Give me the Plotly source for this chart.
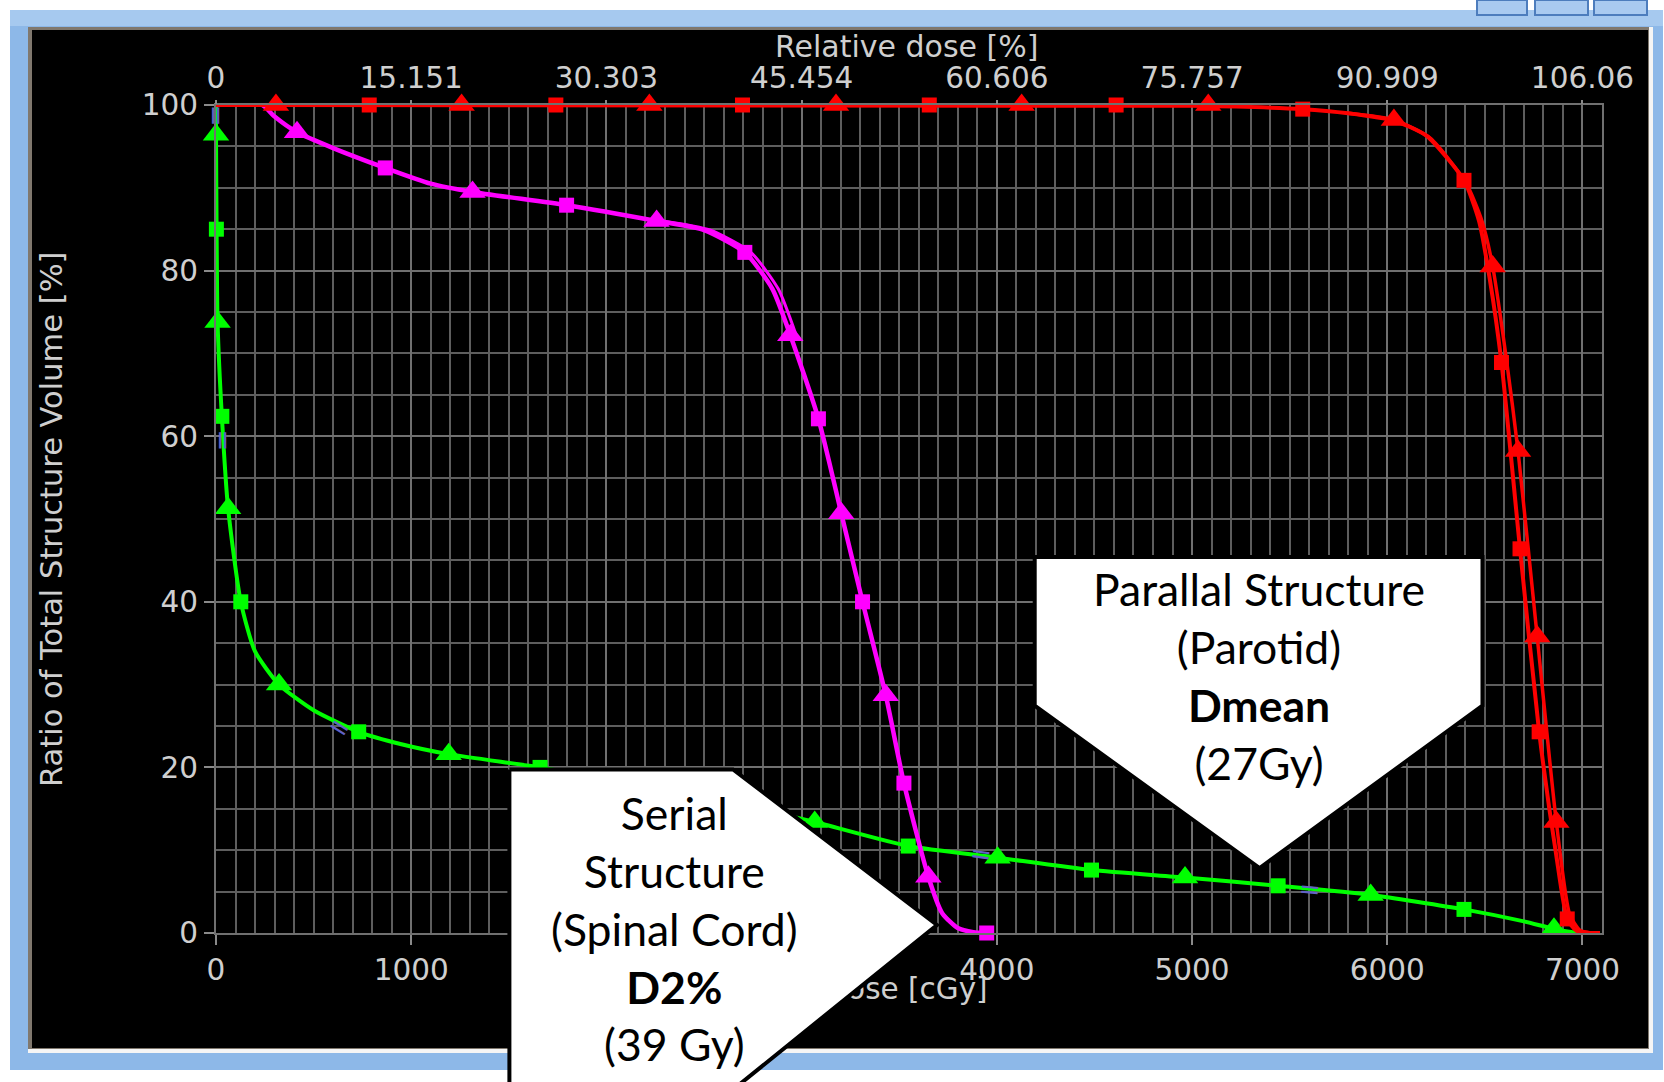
import plotly.graph_objects as go

W, H = 1664, 1082

# ---------------- data (dose in cGy, volume in %) ----------------
x_ticks = [0, 1000, 2000, 3000, 4000, 5000, 6000, 7000]
x_ticklabels = ["0", "1000", "2000", "3000", "4000", "5000", "6000", "7000"]
rel_ticklabels = ["0", "15.151", "30.303", "45.454", "60.606", "75.757", "90.909", "106.06"]
y_ticks = [0, 20, 40, 60, 80, 100]
y_ticklabels = ["0", "20", "40", "60", "80", "100"]

# Target (red): two nearly coincident curves
ptv_a_dose = [0, 5000, 5567, 5800, 6034, 6200, 6393, 6470, 6525, 6585, 6680, 6778, 6865, 6922, 6968, 7040, 7090]
ptv_a_vol = [100, 99.9, 99.5, 99.0, 98.1, 96.3, 90.9, 86.0, 79.0, 68.9, 46.4, 24.3, 9.5, 1.7, 0.3, 0, 0]
ptv_b_dose = [5800, 6034, 6220, 6405, 6485, 6540, 6612, 6670, 6768, 6866, 6935, 6988, 7040]
ptv_b_vol = [99.0, 98.2, 96.0, 90.5, 86.0, 80.5, 69.0, 58.2, 35.8, 13.4, 2.2, 0.3, 0]
ptv_tri_dose = [307, 1258, 2220, 3176, 4127, 5083, 6034, 6540, 6670, 6768, 6866]
ptv_tri_vol = [100, 100, 100, 100, 100, 100, 98.2, 80.5, 58.2, 35.8, 13.4]
ptv_sq_dose = [785, 1741, 2697, 3654, 4611, 5567, 6393, 6585, 6680, 6778, 6922]
ptv_sq_vol = [100, 100, 100, 100, 100, 99.5, 90.9, 68.9, 46.4, 24.3, 1.7]

# Serial structure (magenta)
cord_dose = [0, 236, 300, 415, 600, 867, 1100, 1314, 1796, 2257, 2500, 2709, 2850, 2942,
             3086, 3203, 3312, 3431, 3524, 3649, 3720, 3800, 3880, 3948]
cord_vol = [100, 100, 98.6, 96.7, 94.8, 92.4, 90.5, 89.5, 87.9, 86.0, 84.9, 82.2, 77.8, 72.2,
            62.1, 50.7, 40.0, 28.7, 18.1, 6.8, 2.4, 0.6, 0.1, 0]
cord2_dose = [2290, 2530, 2740, 2880, 2972]
cord2_vol = [86.0, 84.9, 82.2, 77.8, 72.2]
cord_tri_dose = [415, 1314, 2257, 2942, 3203, 3431, 3649]
cord_tri_vol = [96.7, 89.5, 86.0, 72.2, 50.7, 28.7, 6.8]
cord_sq_dose = [867, 1796, 2709, 3086, 3312, 3524, 3948]
cord_sq_vol = [92.4, 87.9, 82.2, 62.1, 40.0, 18.1, 0]

# Parallel structure (green)
parotid_dose = [0, 0, 3, 8, 30, 62, 127, 200, 323, 500, 731, 950, 1192, 1660, 2130, 2600, 3067,
                3546, 4004, 4485, 4964, 5441, 5915, 6393, 6700, 6854, 6950, 7000, 7090]
parotid_vol = [100, 96.4, 85.0, 73.8, 62.4, 51.3, 40.0, 34.0, 30.0, 26.9, 24.3, 22.8, 21.6, 20.0, 18.1, 16.0, 13.4,
               10.5, 9.1, 7.6, 6.7, 5.7, 4.6, 2.85, 1.4, 0.5, 0.1, 0, 0]
parotid_tri_dose = [0, 8, 62, 323, 1192, 2130, 3067, 4004, 4964, 5915, 6854]
parotid_tri_vol = [96.4, 73.8, 51.3, 30.0, 21.6, 18.1, 13.4, 9.1, 6.7, 4.6, 0.5]
parotid_sq_dose = [2, 30, 127, 731, 1660, 2600, 3546, 4485, 5441, 6393]
parotid_sq_vol = [85.0, 62.4, 40.0, 24.3, 20.0, 16.0, 10.5, 7.6, 5.7, 2.85]

# constraint marks (blue "=")
cons_dose = [0, 35, 633, 3920, 5605]
cons_vol = [98.7, 59.5, 24.9, 9.5, 5.3]
cons_angle = [90, 90, 32, 8, 5]

# ---------------- layout geometry (pixels) ----------------
PL, PR, PT, PB = 216, 1602, 105, 933
TXT = "#cfcfcf"
GRID = "#5e5e5e"
FONT = "DejaVu Sans"


def px(x):
    return x / W


def py(y):
    return 1 - y / H


fig = go.Figure()

# curves
for d, v, c, w in [(parotid_dose, parotid_vol, "#00ff00", 4),
                   (cord_dose, cord_vol, "#ff00ff", 4.5),
                   (cord2_dose, cord2_vol, "#ff00ff", 3),
                   (ptv_a_dose, ptv_a_vol, "#ff0000", 4),
                   (ptv_b_dose, ptv_b_vol, "#ff0000", 3.5)]:
    fig.add_trace(go.Scatter(x=d, y=v, mode="lines", line=dict(color=c, width=w, shape="spline", smoothing=0.6),
                             hoverinfo="skip", showlegend=False, cliponaxis=False))

for d, v, c, sym, s in [(parotid_tri_dose, parotid_tri_vol, "#00ff00", "triangle-up", 23),
                        (parotid_sq_dose, parotid_sq_vol, "#00ff00", "square", 15),
                        (cord_tri_dose, cord_tri_vol, "#ff00ff", "triangle-up", 23),
                        (cord_sq_dose, cord_sq_vol, "#ff00ff", "square", 15),
                        (ptv_tri_dose, ptv_tri_vol, "#ff0000", "triangle-up", 23),
                        (ptv_sq_dose, ptv_sq_vol, "#ff0000", "square", 15)]:
    fig.add_trace(go.Scatter(x=d, y=v, mode="markers", marker=dict(color=c, symbol=sym, size=s, line_width=0),
                             hoverinfo="skip", showlegend=False, cliponaxis=False))

# dummy trace for top axis
fig.add_trace(go.Scatter(x=[0], y=[0], xaxis="x2", mode="markers", marker=dict(opacity=0),
                         hoverinfo="skip", showlegend=False))

# overlay (pixel space) for bottom title and callouts
fig.add_trace(go.Scatter(x=[906], y=[992], xaxis="x3", yaxis="y3", mode="text", text=["Dose [cGy]"],
                         textfont=dict(family=FONT, size=29.5, color=TXT), textposition="middle center",
                         hoverinfo="skip", showlegend=False))
callout_par_x = [1034.7, 1482.5, 1482.5, 1259.6, 1034.7, 1034.7]
callout_par_y = [557, 557, 705.7, 868, 705.7, 557]
callout_ser_x = [509.4, 733, 937, 740, 509.4, 509.4]
callout_ser_y = [769.4, 769.4, 925, 1084, 1084, 769.4]
for cx, cy in [(callout_par_x, callout_par_y), (callout_ser_x, callout_ser_y)]:
    fig.add_trace(go.Scatter(x=cx, y=cy, xaxis="x3", yaxis="y3", mode="lines", fill="toself",
                             fillcolor="white", line=dict(color="black", width=4),
                             hoverinfo="skip", showlegend=False))

shapes = [
    dict(type="rect", xref="paper", yref="paper", x0=px(10), x1=px(1663), y0=py(1070), y1=py(10),
         fillcolor="#8db8e8", line_width=0, layer="below"),
    dict(type="rect", xref="paper", yref="paper", x0=px(10), x1=px(1663), y0=py(26), y1=py(10),
         fillcolor="#a6c9ef", line_width=0, layer="below"),
    dict(type="rect", xref="paper", yref="paper", x0=px(28), x1=px(1653), y0=py(1053), y1=py(27),
         fillcolor="#f5f5f5", line_width=0, layer="below"),
    dict(type="rect", xref="paper", yref="paper", x0=px(28), x1=px(1649), y0=py(1049), y1=py(27),
         fillcolor="#80786e", line_width=0, layer="below"),
    dict(type="rect", xref="paper", yref="paper", x0=px(32), x1=px(1648), y0=py(1048), y1=py(30),
         fillcolor="black", line_width=0, layer="below"),
]
for bx0, bx1 in [(1477, 1527), (1535, 1588), (1594, 1647)]:
    shapes.append(dict(type="rect", xref="paper", yref="paper", x0=px(bx0), x1=px(bx1), y0=py(15), y1=py(0),
                       fillcolor="#a9caf0", line=dict(color="#4d7dbd", width=2), layer="below"))

annotations = [
    dict(xref="paper", yref="paper", x=px(906), y=py(47), text="Relative dose [%]", showarrow=False,
         font=dict(family=FONT, size=30, color=TXT), xanchor="center", yanchor="middle"),
    dict(xref="paper", yref="paper", x=px(51), y=py(519), text="Ratio of Total Structure Volume [%]",
         showarrow=False, textangle=-90, font=dict(family=FONT, size=30.5, color=TXT),
         xanchor="center", yanchor="middle"),
    dict(xref="x3", yref="y3", x=1258.6, y=675.5, showarrow=False, align="center",
         text="Parallal Structure<br>(Parotid)<br><b>Dmean</b><br>(27Gy)",
         font=dict(family="Lato", size=44.5, color="black"), xanchor="center", yanchor="middle"),
    dict(xref="x3", yref="y3", x=674, y=928, showarrow=False, align="center",
         text="Serial<br>Structure<br>(Spinal Cord)<br><b>D2%</b><br>(39 Gy)",
         font=dict(family="Lato", size=44.5, color="black"), xanchor="center", yanchor="middle"),
]
for d, v, a in zip(cons_dose, cons_vol, cons_angle):
    annotations.append(dict(xref="x", yref="y", x=d, y=v, text="=", showarrow=False, textangle=a,
                            font=dict(family=FONT, size=26, color="#6262c4"),
                            xanchor="center", yanchor="middle"))

axis_common = dict(showgrid=True, gridcolor="#707070", gridwidth=2, zeroline=False,
                   showline=True, linecolor="#707070", linewidth=2, mirror=True,
                   ticks="outside", ticklen=10, tickcolor="#8a8a8a", tickwidth=2,
                   tickfont=dict(family=FONT, size=29.5, color=TXT), fixedrange=True)

fig.update_layout(
    width=W, height=H,
    margin=dict(l=0, r=0, t=0, b=0, autoexpand=False),
    paper_bgcolor="white", plot_bgcolor="rgba(0,0,0,0)",
    showlegend=False,
    xaxis=dict(domain=[px(PL), px(PR)], range=[0, 7100], tickvals=x_ticks, ticktext=x_ticklabels,
               minor=dict(dtick=100, tick0=0, showgrid=True, gridcolor=GRID, gridwidth=2),
               anchor="y", **axis_common),
    xaxis2=dict(overlaying="x", side="top", range=[0, 7100], tickvals=x_ticks, ticktext=rel_ticklabels,
                showgrid=False, zeroline=False, showline=False, ticks="outside", ticklen=4,
                tickcolor="#8a8a8a", tickwidth=2, anchor="y",
                tickfont=dict(family=FONT, size=29.5, color=TXT), fixedrange=True),
    yaxis=dict(domain=[py(PB), py(PT)], range=[0, 100], tickvals=y_ticks, ticktext=y_ticklabels,
               minor=dict(dtick=5, tick0=0, showgrid=True, gridcolor=GRID, gridwidth=2),
               anchor="x", ticklabelstandoff=0, **axis_common),
    xaxis3=dict(domain=[0, 1], range=[0, W], visible=False, anchor="y3", fixedrange=True),
    yaxis3=dict(domain=[0, 1], range=[H, 0], visible=False, anchor="x3", fixedrange=True),
    shapes=shapes,
    annotations=annotations,
)

fig.write_html(
    "out.html",
    config={"displayModeBar": False},
    post_script="document.documentElement.style.margin='0';document.body.style.margin='0';"
                "document.body.style.overflow='hidden';",
)
